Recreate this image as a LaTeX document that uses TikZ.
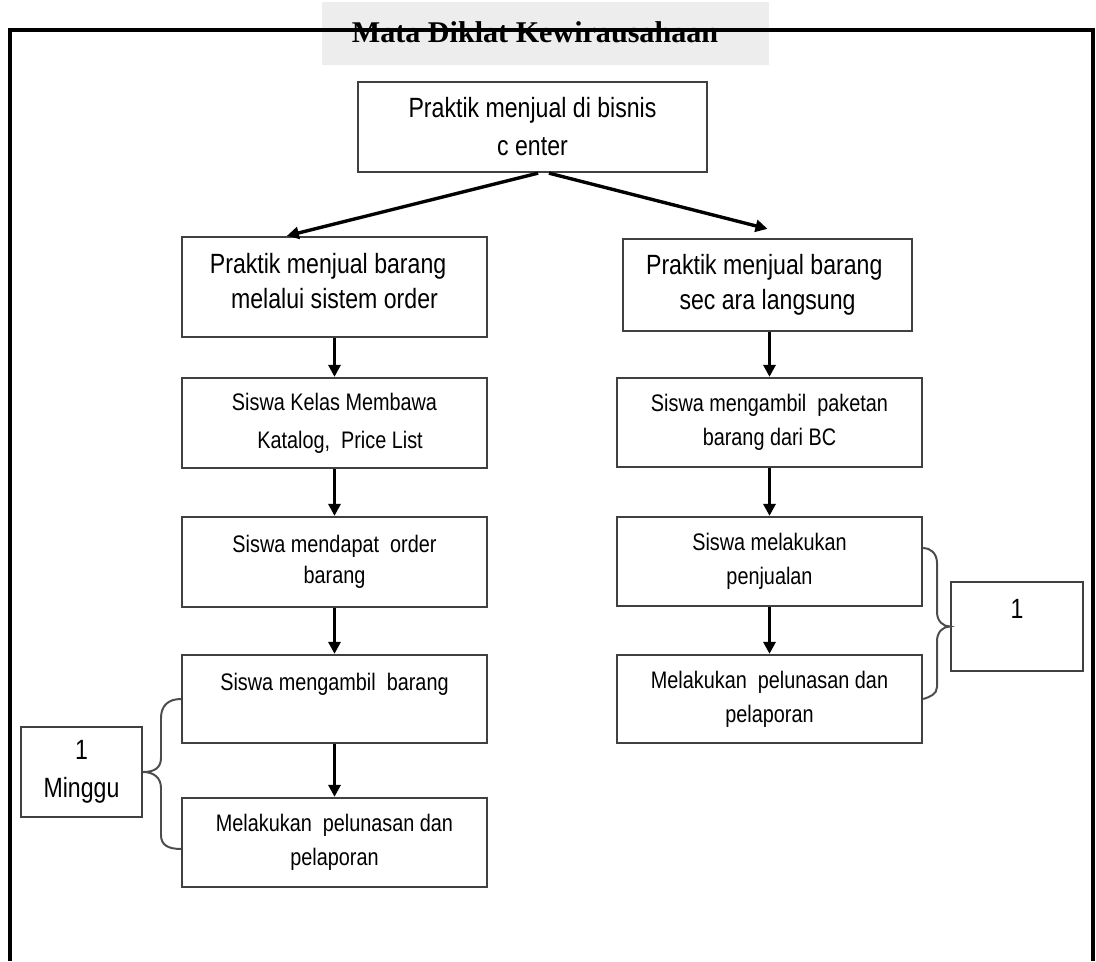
\documentclass[tikz,border=0pt]{standalone}
\usepackage{fontspec}
\setmainfont[FakeStretch=0.83]{Liberation Sans}
\newfontfamily\titlefont{Liberation Serif}
\usetikzlibrary{positioning,arrows.meta}
\tikzset{
  box/.style = {rectangle, draw=black!75, line width=1.6pt,
                minimum width=7.625cm, align=center, inner sep=0pt,
                font=\fontsize{17}{24}\selectfont},
  big/.style = {box, font=\fontsize{19.8}{25}\selectfont},
  arr/.style = {-{Triangle[length=3mm,width=3mm]}, line width=2.4pt},
  brc/.style = {line width=1.4pt, draw=black!70}
}
\begin{document}
\begin{tikzpicture}[x=0.025cm,y=-0.025cm]
  \useasboundingbox (0,0) rectangle (1096,961);
  \fill[black!7] (322,2) rectangle (769,65);
  \draw[line width=2.2pt] (10,961) -- (10,30) -- (1093,30) -- (1093,961);
  \node (title) at (535,32) {\titlefont\fontsize{21.4}{24}\selectfont\bfseries Mata Diklat Kewirausahaan};
  % puncak
  \node[big,minimum width=8.725cm,minimum height=2.25cm,font=\fontsize{19.8}{27}\selectfont] (top) at (532.5,127) {Praktik menjual di bisnis\\c enter};
  % kolom kiri
  \node[big,minimum height=2.5cm] (lorder) at (334.5,287) {Praktik menjual barang~~~\\melalui sistem order~\\[-0.58cm]\mbox{}};
  \node[box,minimum height=2.25cm,font=\fontsize{17}{27}\selectfont] (lkat) at (334.5,423) {Siswa Kelas Membawa\\~~Katalog,~~Price List};
  \node[box,minimum height=2.25cm,font=\fontsize{17}{22}\selectfont] (lget) at (334.5,562) {Siswa mendapat~~order\\barang};
  \node[box,minimum height=2.2cm] (ltake) at (334.5,699) {Siswa mengambil~~barang\\\mbox{}};
  \node[box,minimum height=2.225cm] (lpay) at (334.5,842.5) {Melakukan~~pelunasan dan\\pelaporan};
  \node[big,minimum width=3.025cm,minimum height=2.25cm,font=\fontsize{19.8}{27}\selectfont] (minggu) at (81.5,772) {1\\Minggu};
  % kolom kanan
  \node[big,minimum width=7.225cm,minimum height=2.3cm] (rdirect) at (767.5,285) {Praktik menjual barang~~\\sec ara langsung};
  \node[box,minimum height=2.225cm] (rpaket) at (769.5,422.5) {Siswa mengambil~~paketan\\barang dari BC};
  \node[box,minimum height=2.225cm] (rsell) at (769.5,561.5) {Siswa melakukan\\penjualan};
  \node[box,minimum height=2.2cm] (rpay) at (769.5,699) {Melakukan~~pelunasan dan\\pelaporan};
  \node[big,minimum width=3.3cm,minimum height=2.225cm] (one) at (1017,626.5) {1\\\mbox{}};
  % panah
  \draw[arr] ([xshift=0.14cm]top.south) -- ([xshift=-1.19cm]lorder.north);
  \draw[arr] ([xshift=0.41cm]top.south) -- ([yshift=0.225cm]rdirect.north);
  \draw[arr] (lorder.south) -- (lkat.north);
  \draw[arr] (lkat.south) -- (lget.north);
  \draw[arr] (lget.south) -- (ltake.north);
  \draw[arr] (ltake.south) -- (lpay.north);
  \draw[arr] (rdirect.south -| rpaket) -- (rpaket.north);
  \draw[arr] (rpaket.south) -- (rsell.north);
  \draw[arr] (rsell.south) -- (rpay.north);
  % kurung
  \draw[brc] (ltake.west) .. controls (168,699) and (161,706) .. (161,718) -- (161,758)
    .. controls (161,768) and (154,772) .. (minggu.east)
    .. controls (154,772) and (161,778) .. (161,788) -- (161,835)
    .. controls (161,845) and (168,849) .. ([yshift=-0.16cm]lpay.west);
  \draw[brc] ([yshift=0.34cm]rsell.east) .. controls (930,548) and (937,553) .. (937,563) -- (937,612)
    .. controls (937,621) and (943,626.5) .. (one.west)
    .. controls (943,626.5) and (937,632) .. (937,641) -- (937,687)
    .. controls (937,694) and (930,697) .. (rpay.east);
\end{tikzpicture}
\end{document}
